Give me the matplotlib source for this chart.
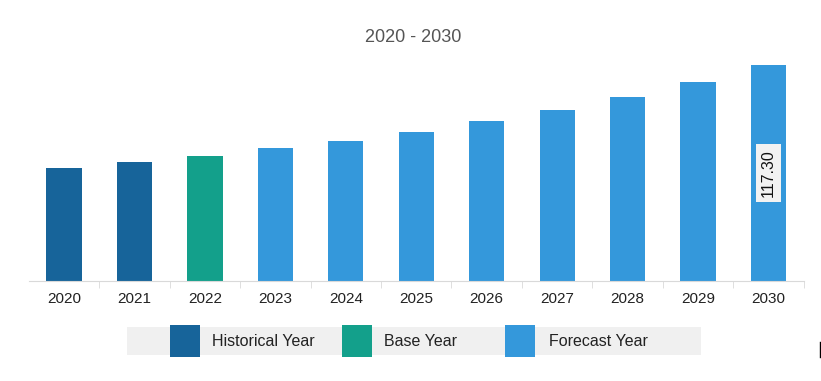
import matplotlib.pyplot as plt
from matplotlib.patches import Rectangle
from matplotlib.lines import Line2D

plt.rcParams['font.family'] = ['Liberation Sans', 'DejaVu Sans']

years = ['2020', '2021', '2022', '2023', '2024', '2025', '2026', '2027', '2028', '2029', '2030']
values = [61.4, 64.6, 68.0, 72.1, 76.2, 81.1, 86.7, 92.7, 99.9, 108.1, 117.30]
kinds = ['Historical Year'] * 2 + ['Base Year'] + ['Forecast Year'] * 8
legend_labels = ['Historical Year', 'Base Year', 'Forecast Year']
legend_colors = ['#17649a', '#13a08b', '#3498db']
colors = dict(zip(legend_labels, legend_colors))

W, H = 821, 381
fig = plt.figure(figsize=(W / 100, H / 100), dpi=100)
ax = fig.add_axes([28.8 / W, 100 / H, (803.7 - 28.8) / W, 226 / H])

x = range(len(years))
ax.bar(x, values, width=0.5, color=[colors[k] for k in kinds], edgecolor='none')
ax.set_xlim(-0.5, len(years) - 0.5)
ax.set_ylim(0, 226 * 117.3 / 216)

for s in ['top', 'right', 'left']:
    ax.spines[s].set_visible(False)
ax.spines['bottom'].set_color('#d9d9d9')
ax.set_yticks([])
ax.set_xticks(list(x))
ax.set_xticklabels(years, fontsize=11, color='#222222')
ax.tick_params(axis='x', length=0, pad=8)
# small separator ticks between categories
ax.set_xticks([i + 0.5 for i in range(len(years))], minor=True)
ax.tick_params(axis='x', which='minor', length=5, color='#d9d9d9')

# value label on the last bar
ax.text(len(years) - 1, values[-1] / 2, f'{values[-1]:.2f}', rotation=90,
        ha='center', va='center', fontsize=11.5, color='#111111',
        bbox=dict(boxstyle='square,pad=0.3', fc='#f2f2f2', ec='none'))

fig.text(413 / W, 1 - 37 / H, '2020 - 2030', ha='center', va='center',
         fontsize=13, color='#555555')

# legend strip
fig.patches.append(Rectangle((127 / W, 1 - 355 / H), (701 - 127) / W, 28 / H,
                             transform=fig.transFigure, fc='#f0f0f0', ec='none'))
patch_x = [170, 342, 505]
text_x = [212, 384, 549]
for lab, col, px, tx in zip(legend_labels, legend_colors, patch_x, text_x):
    fig.patches.append(Rectangle((px / W, 1 - 357 / H), 30 / W, 32 / H,
                                 transform=fig.transFigure, fc=col, ec='none'))
    fig.text(tx / W, 1 - 341 / H, lab, ha='left', va='center', fontsize=11.5,
             color='#222222')

fig.lines.append(Line2D([819.5 / W, 819.5 / W], [1 - 357 / H, 1 - 342 / H],
                        transform=fig.transFigure, color='black', lw=1))

fig.savefig('out.png', dpi=100)
